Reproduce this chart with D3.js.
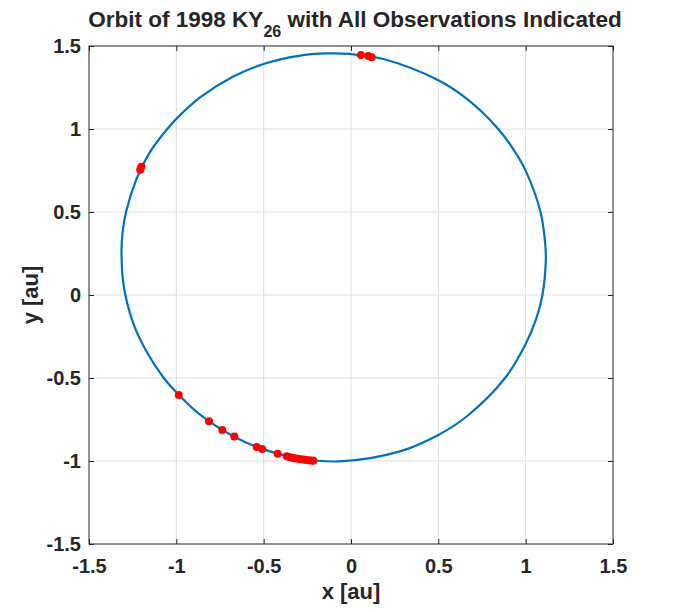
<!DOCTYPE html>
<html>
<head>
<meta charset="utf-8">
<script src="https://cdn.jsdelivr.net/npm/d3@7"></script>
<style>
  body { margin: 0; background: #fff; }
  svg text { font-family: "Liberation Sans", Arial, Helvetica, sans-serif; font-weight: bold; fill: #262626; }
</style>
</head>
<body>
<div id="chart"></div>
<script>

// orbit outline (x, y in au), going counter-clockwise
const orbitX = [1.095, 1.115, 1.113, 1.085, 1.000, 0.949, 0.843, 0.662, 0.500, 0.185, -0.006, -0.139, -0.300, -0.500, -0.674, -0.864, -1.000, -1.052, -1.151, -1.227, -1.288, -1.308, -1.314, -1.301, -1.248, -1.178, -1.072, -1.000, -0.864, -0.674, -0.500, -0.292, -0.063, 0.280, 0.500, 0.662, 0.882, 1.000, 1.062];
const orbitY = [-0.006, 0.195, 0.295, 0.500, 0.749, 0.846, 1.000, 1.183, 1.294, 1.422, 1.452, 1.455, 1.441, 1.392, 1.316, 1.190, 1.061, 1.000, 0.861, 0.702, 0.500, 0.375, 0.255, 0.054, -0.167, -0.327, -0.500, -0.586, -0.721, -0.851, -0.930, -0.985, -1.002, -0.942, -0.843, -0.732, -0.500, -0.295, -0.138];

// observed positions
const obsX = [0.057, 0.099, 0.118, -1.200, -1.207, -0.986, -0.813, -0.737, -0.668, -0.540, -0.508, -0.420,
              -0.368, -0.353, -0.337, -0.321, -0.305, -0.289, -0.272, -0.257, -0.241, -0.226, -0.216];
const obsY = [1.446, 1.440, 1.432, 0.772, 0.755, -0.602, -0.761, -0.813, -0.853, -0.916, -0.928, -0.956,
              -0.972, -0.976, -0.980, -0.983, -0.986, -0.989, -0.991, -0.994, -0.996, -0.997, -0.998];

const tickValues = [-1.5, -1, -0.5, 0, 0.5, 1, 1.5];
const xTickLabels = ["-1.5", "-1", "-0.5", "0", "0.5", "1", "1.5"];
const yTickLabels = ["-1.5", "-1", "-0.5", "0", "0.5", "1", "1.5"];

class OrbitPlot {

    constructor(id) {
        this.id = id;
        this.left = 89;
        this.right = 613;
        this.top = 46;
        this.bottom = 544;

        this.drawPlot();
    }

    drawPlot() {

        let svg = d3.select(this.id).append('svg')
            .attr('width', 678)
            .attr('height', 612);

        svg.append('rect').attr('width', 678).attr('height', 612).attr('fill', '#fff');

        let xScale = d3.scaleLinear().domain([-1.5, 1.5]).range([this.left, this.right]);
        let yScale = d3.scaleLinear().domain([-1.5, 1.5]).range([this.bottom, this.top]);

        let w = this.right - this.left;
        let h = this.bottom - this.top;

        // grid
        let grid = svg.append('g').attr('class', 'grid');
        grid.selectAll('.vgrid').data(tickValues.slice(1, -1)).join('line')
            .attr('x1', d => xScale(d)).attr('x2', d => xScale(d))
            .attr('y1', this.top).attr('y2', this.bottom)
            .attr('stroke', '#dedede').attr('stroke-width', 1);
        grid.selectAll('.hgrid').data(tickValues.slice(1, -1)).join('line')
            .attr('y1', d => yScale(d)).attr('y2', d => yScale(d))
            .attr('x1', this.left).attr('x2', this.right)
            .attr('stroke', '#dedede').attr('stroke-width', 1);

        // orbit
        let orbit = d3.zip(orbitX, orbitY);
        let line = d3.line()
            .x(d => xScale(d[0]))
            .y(d => yScale(d[1]))
            .curve(d3.curveCatmullRomClosed.alpha(0.5));

        svg.append('path')
            .datum(orbit)
            .attr('d', line)
            .attr('fill', 'none')
            .attr('stroke', '#0072BD')
            .attr('stroke-width', 2.2);

        // observations
        svg.append('g').selectAll('circle')
            .data(d3.zip(obsX, obsY))
            .join('circle')
            .attr('cx', d => xScale(d[0]))
            .attr('cy', d => yScale(d[1]))
            .attr('r', 4)
            .attr('fill', '#ff0000');

        // axes, ticks pointing inward on all four sides
        let xAxis = d3.axisBottom(xScale).tickValues(tickValues)
            .tickFormat((d, i) => xTickLabels[i])
            .tickSizeInner(-5).tickSizeOuter(0).tickPadding(15);
        let yAxis = d3.axisLeft(yScale).tickValues(tickValues)
            .tickFormat((d, i) => yTickLabels[i])
            .tickSizeInner(-5).tickSizeOuter(0).tickPadding(8);
        let xTop = d3.axisTop(xScale).tickValues(tickValues).tickFormat('')
            .tickSizeInner(-5).tickSizeOuter(0);
        let yRight = d3.axisRight(yScale).tickValues(tickValues).tickFormat('')
            .tickSizeInner(-5).tickSizeOuter(0);

        let gx = svg.append('g').attr('transform', `translate(0,${this.bottom})`).call(xAxis);
        let gy = svg.append('g').attr('transform', `translate(${this.left},0)`).call(yAxis);
        let gt = svg.append('g').attr('transform', `translate(0,${this.top})`).call(xTop);
        let gr = svg.append('g').attr('transform', `translate(${this.right},0)`).call(yRight);

        [gx, gy, gt, gr].forEach(g => {
            g.select('.domain').remove();
            g.selectAll('line').attr('stroke', '#262626');
            g.selectAll('text').attr('font-size', 20).attr('font-family', null).attr('fill', '#262626');
        });

        svg.append('rect')
            .attr('x', this.left).attr('y', this.top)
            .attr('width', w).attr('height', h)
            .attr('fill', 'none')
            .attr('stroke', '#262626')
            .attr('stroke-width', 1);

        // title with subscript
        let title = svg.append('text')
            .attr('x', (this.left + this.right) / 2 + 4)
            .attr('y', 27)
            .attr('text-anchor', 'middle')
            .attr('font-size', 22.5);
        title.append('tspan').text('Orbit of 1998 KY');
        title.append('tspan').attr('font-size', 16).attr('dy', 10).text('26');
        title.append('tspan').attr('dy', -10).text(' with All Observations Indicated');

        // axis labels
        svg.append('text')
            .attr('x', (this.left + this.right) / 2)
            .attr('y', 599)
            .attr('text-anchor', 'middle')
            .attr('font-size', 22)
            .text('x [au]');

        svg.append('text')
            .attr('transform', `translate(38,${(this.top + this.bottom) / 2}) rotate(-90)`)
            .attr('text-anchor', 'middle')
            .attr('font-size', 22)
            .text('y [au]');
    }
}

let plot = new OrbitPlot('#chart');

</script>
</body>
</html>
